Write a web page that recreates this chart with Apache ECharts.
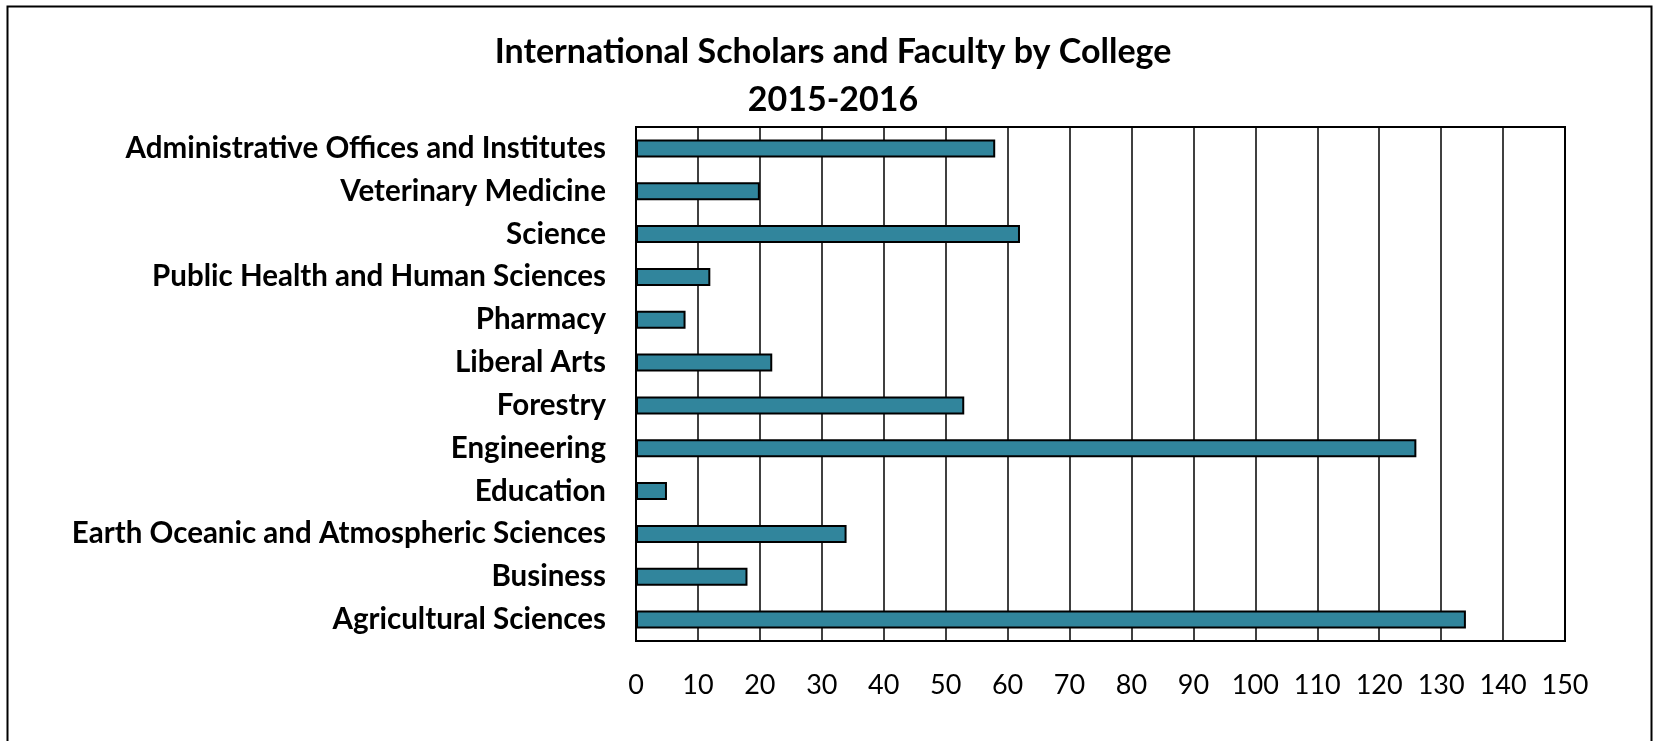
<!DOCTYPE html>
<html lang="en">
<head>
    <meta charset="UTF-8">
    <title>International Scholars and Faculty by College</title>
    <script src="https://cdn.jsdelivr.net/npm/echarts@6/dist/echarts.min.js"></script>
    <style>
        html, body {
            margin: 0;
            padding: 0;
            background: #fff;
        }
        #main {
            width: 1658px;
            height: 741px;
        }
    </style>
</head>
<body>
<div id="main"></div>
<script>
    // categories from bottom to top (value axis order)
    var colleges = [
        'Agricultural Sciences',
        'Business',
        'Earth Oceanic and Atmospheric Sciences',
        'Education',
        'Engineering',
        'Forestry',
        'Liberal Arts',
        'Pharmacy',
        'Public Health and Human Sciences',
        'Science',
        'Veterinary Medicine',
        'Administrative Offices and Institutes'
    ];
    var scholars = [134, 18, 34, 5, 126, 53, 22, 8, 12, 62, 20, 58];

    var chart = echarts.init(document.getElementById('main'));
    var option = {
        animation: false,
        backgroundColor: '#fff',
        title: {
            text: 'International Scholars and Faculty by College\n2015-2016',
            left: 828,
            top: 23,
            textAlign: 'center',
            textStyle: {
                fontFamily: 'Lato',
                fontWeight: 'bold',
                fontSize: 34,
                lineHeight: 48,
                color: '#000'
            }
        },
        graphic: [
            {
                type: 'rect',
                shape: {x: 7.5, y: 6.5, width: 1644, height: 800},
                style: {fill: 'none', stroke: '#000', lineWidth: 2},
                silent: true
            }
        ],
        grid: {
            left: 636,
            right: 93,
            top: 127,
            bottom: 100,
            show: true,
            borderColor: '#000',
            borderWidth: 2
        },
        xAxis: {
            type: 'value',
            min: 0,
            max: 150,
            interval: 10,
            axisLine: {show: true, lineStyle: {color: '#000', width: 2}},
            axisTick: {show: false},
            splitLine: {show: true, lineStyle: {color: '#000', width: 1.5}},
            axisLabel: {
                margin: 31,
                fontFamily: 'Lato',
                fontSize: 27,
                color: '#000'
            }
        },
        yAxis: {
            type: 'category',
            data: colleges,
            axisLine: {show: true, lineStyle: {color: '#000', width: 2}},
            axisTick: {show: false},
            axisLabel: {
                margin: 30,
                fontFamily: 'Lato',
                fontWeight: 'bold',
                fontSize: 29.5,
                color: '#000'
            }
        },
        series: [
            {
                name: 'Scholars',
                type: 'bar',
                data: scholars,
                barWidth: 18,
                itemStyle: {
                    color: '#31859c',
                    borderColor: '#000',
                    borderWidth: 2
                }
            }
        ]
    };
    chart.setOption(option);
</script>
</body>
</html>
